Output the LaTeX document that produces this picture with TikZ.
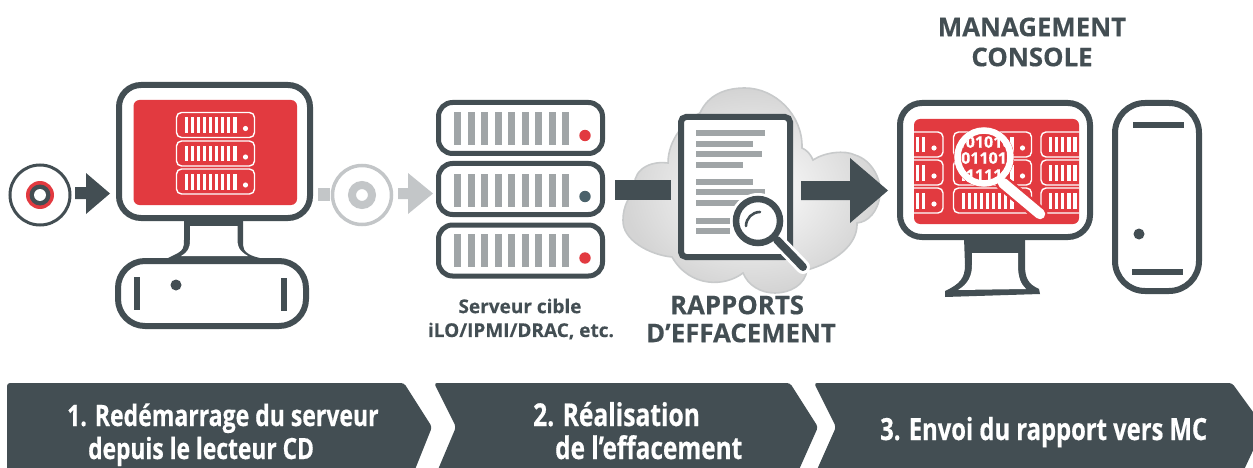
\documentclass[tikz,border=0pt]{standalone}
\usepackage{fontspec}
\setmainfont[BoldFeatures={FakeBold=0.35}]{Open Sans}
\newfontfamily\narrowfont[BoldFeatures={FakeStretch=0.78,FakeBold=0.5}]{Open Sans}
\usepackage{tikz}
\definecolor{slate}{HTML}{434E53}
\definecolor{alert}{HTML}{E23A40}
\definecolor{barcol}{HTML}{A0A5A7}
\definecolor{ghost}{HTML}{C3C6C8}
\definecolor{cloudline}{HTML}{C8CACB}
\definecolor{lamp}{HTML}{4B626B}
\tikzset{
  case/.style={draw=slate,line width=6pt,fill=white},
  rack/.style={draw=slate,line width=5pt,fill=white,rounded corners=14pt},
  tiny rack/.style={draw=white,line width=1.4pt,rounded corners=5pt},
  screen/.style={fill=alert,rounded corners=6pt},
  caption/.style={text=slate,font=\bfseries\fontsize{25.8}{30}\selectfont,inner sep=0pt},
  small caption/.style={text=slate,font=\bfseries\fontsize{19}{20}\selectfont,inner sep=0pt},
  band text/.style={text=white,font=\narrowfont\bfseries\fontsize{#1}{33}\selectfont,inner sep=0pt,anchor=base west},
  bits/.style={text=white,font=\bfseries\fontsize{16}{17}\selectfont,inner sep=0pt},
  band/.style={fill=slate,rounded corners=3pt},
}
% one small white server, left end at #1, top at #2
\newcommand{\tinyrack}[2]{
  \draw[tiny rack] (#1,#2) rectangle ++(78,25);
  \foreach \b in {0,...,8}
    \fill[white] (#1+8+\b*6.1,#2+5) rectangle ++(3.2,15.5);
  \fill[white] (#1+69,#2+16) circle (2.6);
}
% one large server, top at #1, bars from #2 to #3, lamp colour #4
\newcommand{\bigrack}[4]{
  \draw[rack] (438.5,#1) rectangle ++(164,51);
  \foreach \b in {0,...,8}
    \fill[barcol] (454+\b*13.5,#2) rectangle ++(7,#3-#2);
  \fill[#4] (585,#1+#3-#2) circle (5.7);
}
\begin{document}
\begin{tikzpicture}[x=1pt,y=-1pt]
  \useasboundingbox (0,0) rectangle (1253,468);

  % CD and arrow
  \draw[slate,line width=3pt] (40,195) circle (30);
  \fill[alert] (40,195) circle (14);
  \fill[slate] (40,195) circle (10.5);
  \fill[white] (40,195) circle (6);
  \fill[slate] (75,187)--(86,187)--(86,173)--(110,193.5)--(86,214)--(86,199)--(75,199)--cycle;

  % left computer
  \fill[slate] (184,218)--(243,218)--(243,245) .. controls (243,252) and (250,256) .. (260,258)--(168,258)--(178,253) .. controls (183,250) and (184,248) .. (184,240)--cycle;
  \fill[white] (190,226)--(237.5,226)--(237.5,240) .. controls (237.5,250) and (243,253) .. (248,256)--(181,256) .. controls (188,252) and (190,248) .. (190,240)--cycle;
  \draw[case,rounded corners=22pt] (119,85) rectangle (310,218);
  \fill[screen] (133.5,100) rectangle (297,205);
  \tinyrack{176.5}{112.5}
  \tinyrack{176.5}{141}
  \tinyrack{176.5}{169}
  \draw[case,rounded corners=27pt] (118,261) rectangle (306,326);
  \fill[slate] (134,277) rectangle (140,310);
  \fill[slate] (281,278) rectangle (287,311);
  \fill[slate] (176,285) circle (5.5);

  % ghost CD and arrows
  \fill[ghost] (318,188) rectangle (329.5,201);
  \draw[ghost,line width=3.5pt] (362,195) circle (29.5);
  \draw[ghost,line width=8pt] (362,195) circle (10);
  \fill[ghost] (398,188)--(408,188)--(408,173)--(433,193.5)--(408,214)--(408,199)--(398,199)--cycle;

  % target servers
  \bigrack{102.5}{112}{145}{alert}
  \bigrack{163.5}{174}{207}{lamp}
  \bigrack{225}{234}{267}{alert}
  \node[small caption] (target) at (520,306) {Serveur cible};
  \node[small caption] (bmc) at (521,331) {iLO/IPMI/DRAC, etc.};

  % cloud
  \shade[draw=cloudline,line width=1.6pt,inner color=white,outer color=black!17]
    (700,113) .. controls (708,95) and (725,88) .. (745,88)
    .. controls (775,88) and (803,115) .. (802,148)
    .. controls (807,150) and (811,155) .. (813,160)
    .. controls (825,152) and (845,150) .. (855,155)
    .. controls (872,160) and (882,180) .. (880,195)
    .. controls (878,212) and (868,222) .. (857,223)
    .. controls (858,245) and (835,262) .. (807,270)
    .. controls (805,285) and (790,293) .. (775,293)
    .. controls (760,293) and (748,285) .. (743,273)
    .. controls (725,287) and (690,288) .. (672,257)
    .. controls (650,255) and (622,240) .. (623,220)
    .. controls (623,205) and (630,195) .. (636,190)
    .. controls (630,175) and (645,160) .. (668,163)
    .. controls (668,140) and (685,120) .. (700,113) -- cycle;

  % report
  \draw[slate,fill=white,line width=6pt,rounded corners=5pt] (681,117) rectangle (790,257);
  \foreach \ya/\xb in {130/765,141/753,151/762,162/743,179/753,189/765,200/740,218/730,228/730}
    \fill[barcol] (696,\ya) rectangle (\xb,\ya+6);
  \draw[white,line width=14pt,line cap=round] (777,240)--(803,267);
  \fill[white] (758,221) circle (28);
  \draw[slate,line width=8pt,line cap=round] (777,240)--(803,267);
  \draw[slate,line width=6.5pt,fill=white] (758,221) circle (22);
  \draw[slate,line width=2.6pt,line cap=round] (746,226) arc (180:270:14);
  \node[caption] (reports) at (737,305) {RAPPORTS};
  \node[caption] (erasure) at (741,333) {D’EFFACEMENT};

  % arrows around the report
  \fill[slate] (615,180) rectangle (671,200);
  \fill[slate] (801,181)--(850,181)--(850,158)--(888,190.5)--(850,223)--(850,200)--(801,200)--cycle;

  % console
  \node[caption] (mgmt) at (1032,27) {MANAGEMENT};
  \node[caption] (console) at (1032,57) {CONSOLE};
  \fill[slate] (964,238)--(1025,238)--(1025,265) .. controls (1025,278) and (1028,284) .. (1039,289)--(1040,294)--(945,297)--(945,291) .. controls (960,284) and (965,278) .. (965,265)--cycle;
  \fill[white] (972,253)--(1018,253)--(1018,265) .. controls (1018,278) and (1021,284) .. (1026,289)--(958,290) .. controls (968,284) and (972,276) .. (972,265)--cycle;
  \draw[case,rounded corners=22pt] (900,103) rectangle (1090,237);
  \fill[screen] (914,119) rectangle (1079,224);
  \begin{scope}
    \clip[rounded corners=6pt] (914,119) rectangle (1079,224);
    \foreach \col in {865,953.5,1041}
      \foreach \row in {132,160,188}
        \tinyrack{\col}{\row}
    \draw[alert,line width=15pt,line cap=round] (1003,183)--(1040,214);
    \fill[alert] (984,157) circle (30);
    \draw[white,line width=10.5pt,line cap=round] (1003,183)--(1040,214);
    \draw[white,line width=6.5pt] (984,157) circle (26.5);
    \clip (984,157) circle (23.5);
    \node[bits] (bitsa) at (984,142) {101010};
    \node[bits] (bitsb) at (984,158) {01101};
    \node[bits] (bitsc) at (984,175) {011110};
  \end{scope}

  % tower
  \draw[case,rounded corners=30pt] (1115,103) rectangle (1199,291);
  \fill[slate] (1133,122) rectangle (1184,128);
  \fill[slate] (1132,269) rectangle (1183,275);
  \fill[slate] (1139,234) circle (5.5);

  % bottom bands
  \fill[band] (7,383)--(404,383)--(432,427)--(414,472)--(7,472)--cycle;
  \fill[band] (434,383)--(790,383)--(818,427)--(798,472)--(437,472)--(456,427)--cycle;
  \fill[band] (814,383)--(1232,383)--(1264,427)--(1243,472)--(816,472)--(836,427)--cycle;
  \node[band text=29.5] (stepa) at (67,426) {1. Redémarrage du serveur};
  \node[band text=29.2] (stepb) at (88,459) {depuis le lecteur CD};
  \node[band text=31.5] (stepc) at (533,426) {2. Réalisation};
  \node[band text=31.2] (stepd) at (555,459) {de l’effacement};
  \node[band text=30.5] (stepe) at (880,440) {3. Envoi du rapport vers MC};
\end{tikzpicture}
\end{document}
